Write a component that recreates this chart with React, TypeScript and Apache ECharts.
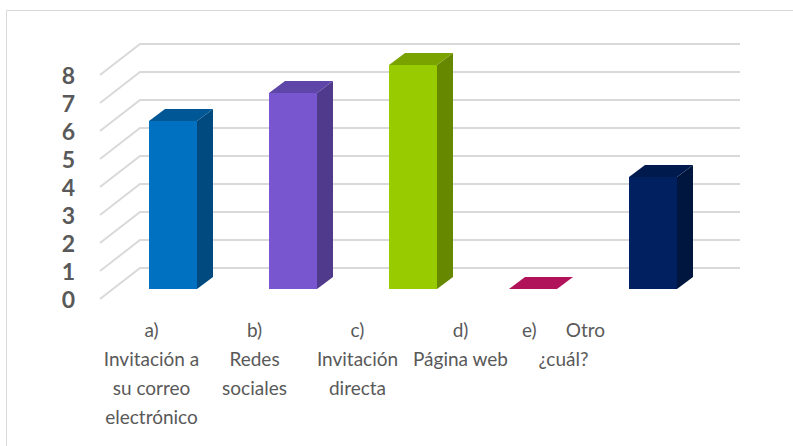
import React, { useEffect, useRef } from "react";
import * as echarts from "echarts";

const categories = [
  "a)\nInvitación a\nsu correo\nelectrónico",
  "b)\nRedes\nsociales",
  "c)\nInvitación\ndirecta",
  "d)\nPágina web",
  "e)      Otro\n¿cuál?",
];
const values = [6, 7, 8, 0, 4];
const yTicks = [0, 1, 2, 3, 4, 5, 6, 7, 8];

const frontColors = ["#0070C0", "#7856CF", "#99CC00", "#B0135A", "#002060"];
const sideColors = ["#004A80", "#4F3A8C", "#668800", "#7A0C3E", "#00163F"];
const topColors = ["#005796", "#5E45A8", "#7AA300", "#B0135A", "#001A4D"];

export default function App() {
  const ref = useRef<HTMLDivElement>(null);
  useEffect(() => {
    if (!ref.current) return;
    const chart = echarts.init(ref.current, undefined, { renderer: "svg" });
    const option: any = {
      animation: false,
      backgroundColor: "#ffffff",
      graphic: [
        {
          type: "rect",
          shape: { x: 6.5, y: 10.5, width: 900, height: 600 },
          style: { fill: "none", stroke: "#d9d9d9", lineWidth: 1 },
          silent: true,
        },
      ],
      grid: [
        { left: 100, width: 600, top: 75, height: 224 },
        { left: 100, width: 515, top: 298, height: 1 },
      ],
      xAxis: [
        { type: "category", data: categories, gridIndex: 0, show: false },
        {
          type: "category",
          data: categories,
          gridIndex: 1,
          axisLine: { show: false },
          axisTick: { show: false },
          axisLabel: {
            interval: 0,
            fontFamily: "Lato",
            fontSize: 19,
            lineHeight: 29,
            color: "#595959",
            margin: 16,
          },
        },
      ],
      yAxis: [
        {
          type: "value",
          gridIndex: 0,
          min: 0,
          max: 8,
          interval: 1,
          axisLine: { show: false },
          axisTick: { show: false },
          splitLine: { show: false },
          axisLabel: {
            fontFamily: "Lato",
            fontWeight: "bold",
            fontSize: 23,
            color: "#595959",
            margin: 25,
          },
        },
        { type: "value", gridIndex: 1, show: false },
      ],
      series: [
        {
          type: "custom",
          xAxisIndex: 0,
          yAxisIndex: 0,
          z: 1,
          silent: true,
          data: yTicks.map((t) => [0, t]),
          renderItem: (params: any, api: any) => {
            const t = api.value(1);
            const y = api.coord([0, t])[1];
            const x = params.coordSys.x;
            return {
              type: "polyline",
              shape: {
                points: [
                  [x, y],
                  [x + 40, y - 31],
                  [x + 640, y - 31],
                ],
              },
              style: { fill: "none", stroke: "#d9d9d9", lineWidth: 2 },
            };
          },
        },
        {
          type: "custom",
          xAxisIndex: 0,
          yAxisIndex: 0,
          z: 2,
          data: values.map((v, i) => [i, v]),
          renderItem: (params: any, api: any) => {
            const i = api.value(0);
            const v = api.value(1);
            const base = api.coord([i, 0]);
            const top = api.coord([i, v]);
            const hw = 24;
            const ox = 13;
            const oy = 10;
            const dx = 16;
            const dy = 12;
            const x0 = base[0] - hw + ox;
            const x1 = base[0] + hw + ox;
            const yb = base[1] - oy;
            const yt = top[1] - oy;
            const children: any[] = [];
            if (yb - yt > 0.5) {
              children.push({
                type: "polygon",
                shape: {
                  points: [
                    [x1, yb],
                    [x1 + dx, yb - dy],
                    [x1 + dx, yt - dy],
                    [x1, yt],
                  ],
                },
                style: { fill: sideColors[i] },
              });
              children.push({
                type: "rect",
                shape: { x: x0, y: yt, width: x1 - x0, height: yb - yt },
                style: { fill: frontColors[i] },
              });
            }
            children.push({
              type: "polygon",
              shape: {
                points: [
                  [x0, yt],
                  [x1, yt],
                  [x1 + dx, yt - dy],
                  [x0 + dx, yt - dy],
                ],
              },
              style: { fill: topColors[i] },
            });
            return { type: "group", children };
          },
        },
      ],
    };
    chart.setOption(option);
    return () => chart.dispose();
  }, []);
  return (
    <div
      ref={ref}
      style={{ position: "absolute", left: 0, top: 0, width: 793, height: 446 }}
    />
  );
}
